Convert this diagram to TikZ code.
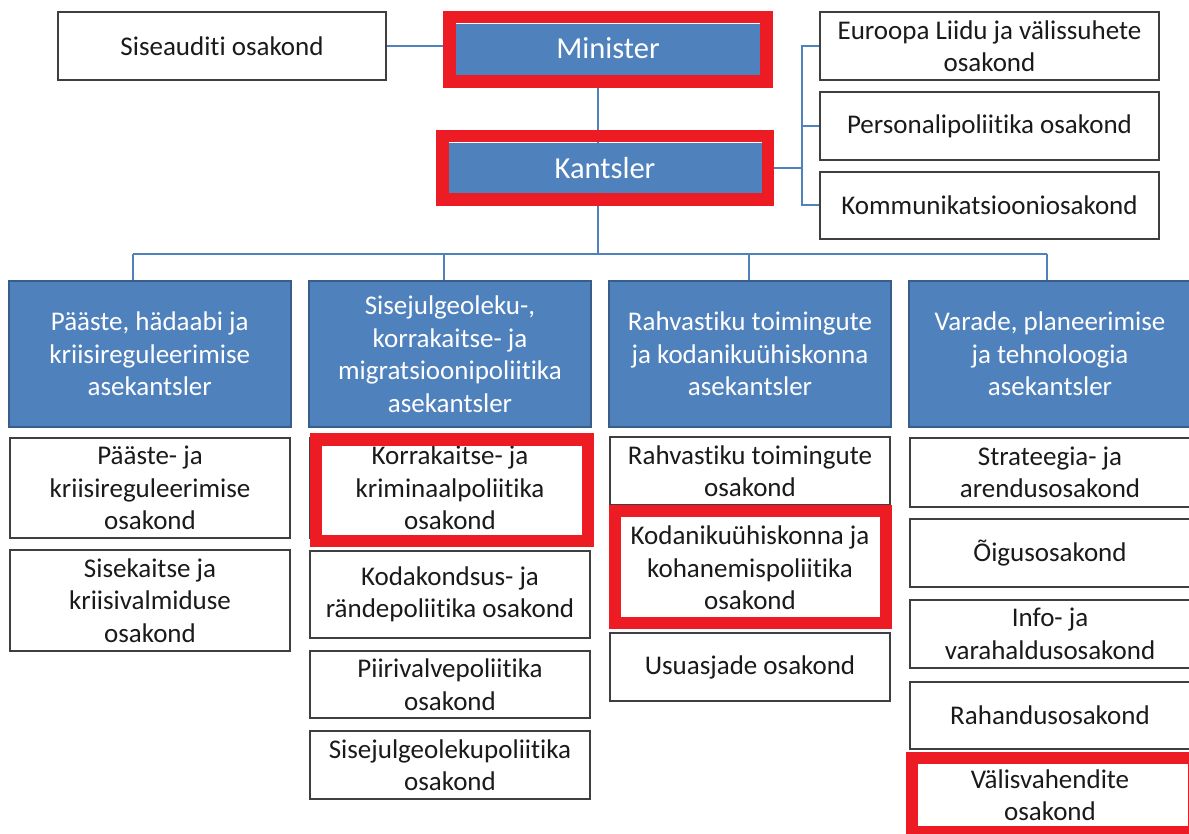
\documentclass[tikz,border=0pt]{standalone}
\usepackage{fontspec}
\setmainfont{Carlito}[Ligatures={NoCommon}]
\usetikzlibrary{calc}
\definecolor{bfill}{HTML}{4F81BD}
\definecolor{bline}{HTML}{385D8A}
\definecolor{connc}{HTML}{4F81BD}
\definecolor{hred}{HTML}{ED1C24}
\definecolor{gline}{HTML}{3F3F3F}
\definecolor{tx}{HTML}{1A1A1A}
\begin{document}
\begin{tikzpicture}[x=1pt,y=-1pt,
  wbox/.style={draw=gline, line width=1.6pt, fill=white, inner sep=0pt, align=center,
    font=\fontsize{27}{32.5}\selectfont, text=tx},
  bbox/.style={draw=bline, line width=1.6pt, fill=bfill, inner sep=0pt, align=center,
    text=white, font=\fontsize{27}{32.5}\selectfont, minimum width=282pt, minimum height=146pt},
  topbox/.style={fill=bfill, inner sep=0pt, text=white, font=\fontsize{30.5}{36}\selectfont},
  lnk/.style={draw=connc, line width=2pt},
  hl/.style={draw=hred, line width=12.5pt},
  cw/.style={minimum width=280pt}]
\useasboundingbox (0,0) rectangle (1189,834);
\fill[white] (0,0) rectangle (1189,834);

% coordinates for connector columns
\coordinate (mk) at (597.6,0);
\coordinate (rb) at (802,0);
\coordinate (v1) at (133,254);
\coordinate (v2) at (443.5,254);
\coordinate (v3) at (748.5,254);
\coordinate (v4) at (1047,254);

% top nodes
\node[wbox, minimum width=328pt, minimum height=68pt] (sis) at (222,46) {Siseauditi osakond};
\node[topbox, minimum width=304pt, minimum height=52pt] (min) at (608,50) {\raisebox{4pt}{Minister}};
\node[topbox, minimum width=313pt, minimum height=50pt] (kant) at (605,168) {Kantsler};
\node[wbox, minimum width=339pt, minimum height=68pt] (eu) at (989.5,46) {Euroopa Liidu ja välissuhete\\osakond};
\node[wbox, minimum width=339pt, minimum height=68pt] (pers) at (989.5,126) {Personalipoliitika osakond};
\node[wbox, minimum width=339pt, minimum height=67pt] (komm) at (989.5,205.5) {Kommunikatsiooniosakond};

% connectors (top)
\draw[lnk] (sis.east) -- (sis.east -| min.west);
\draw[lnk] (min.south -| mk) -- (kant.north -| mk);
\draw[lnk] (kant.east) -- (kant.east -| rb);
\draw[lnk] (eu.west) -- (eu.west -| rb) -- (komm.west -| rb) -- (komm.west);
\draw[lnk] (pers.west) -- (pers.west -| rb);

% asekantsler boxes
\node[bbox] (a1) at (149.7,354) {Pääste, hädaabi ja\\kriisireguleerimise\\asekantsler};
\node[bbox] (a2) at (450,354) {Sisejulgeoleku-,\\korrakaitse- ja\\migratsioonipoliitika\\asekantsler};
\node[bbox] (a3) at (750,354) {Rahvastiku toimingute\\ja kodanikuühiskonna\\asekantsler};
\node[bbox] (a4) at (1050,354) {Varade, planeerimise\\ja tehnoloogia\\asekantsler};

\draw[lnk] (kant.south -| mk) -- (mk |- v1);
\draw[lnk] (v1) -- (v4);
\draw[lnk] (v1) -- (v1 |- a1.north);
\draw[lnk] (v2) -- (v2 |- a2.north);
\draw[lnk] (v3) -- (v3 |- a3.north);
\draw[lnk] (v4) -- (v4 |- a4.north);

% column 1
\node[wbox, cw, minimum height=100pt] (c1a) at (150,488) {Pääste- ja\\kriisireguleerimise\\osakond};
\node[wbox, cw, minimum height=101pt] (c1b) at (150,600.5) {Sisekaitse ja\\kriisivalmiduse\\osakond};

% column 2
\node[wbox, cw, minimum height=100pt] (c2a) at (450,488) {Korrakaitse- ja\\kriminaalpoliitika\\osakond};
\node[wbox, cw, minimum height=87pt] (c2b) at (450,594.5) {Kodakondsus- ja\\rändepoliitika osakond};
\node[wbox, cw, minimum height=67pt] (c2c) at (450,684.5) {Piirivalvepoliitika\\osakond};
\node[wbox, cw, minimum height=68pt] (c2d) at (450,765) {Sisejulgeolekupoliitika\\osakond};

% column 3
\node[wbox, cw, minimum height=68pt] (c3a) at (750,471) {Rahvastiku toimingute\\osakond};
\node[wbox, cw, minimum height=106pt] (c3b) at (750,568) {Kodanikuühiskonna ja\\kohanemispoliitika\\osakond};
\node[wbox, cw, minimum height=68pt] (c3c) at (750,667) {Usuasjade osakond};

% column 4
\node[wbox, cw, minimum height=69pt] (c4a) at (1050,472.5) {Strateegia- ja\\arendusosakond};
\node[wbox, cw, minimum height=68pt] (c4b) at (1050,553) {Õigusosakond};
\node[wbox, cw, minimum height=68pt] (c4c) at (1050,634) {Info- ja\\varahaldusosakond};
\node[wbox, cw, minimum height=67pt] (c4d) at (1050,715.5) {Rahandusosakond};
\node[wbox, cw, minimum height=66pt] (c4e) at (1050,795) {Välisvahendite\\osakond};

% red highlight frames
\draw[hl] (449.25,17.25) rectangle (766.35,81.75);
\draw[hl] (442.25,136.25) rectangle (767.75,199.75);
\draw[hl] (315.8,439.5) rectangle (587.8,541);
\draw[hl, line width=12pt] (615,510.5) rectangle (885.5,622.5);
\draw[hl, line width=12pt] (911.5,758) rectangle (1194,832);
\end{tikzpicture}
\end{document}
